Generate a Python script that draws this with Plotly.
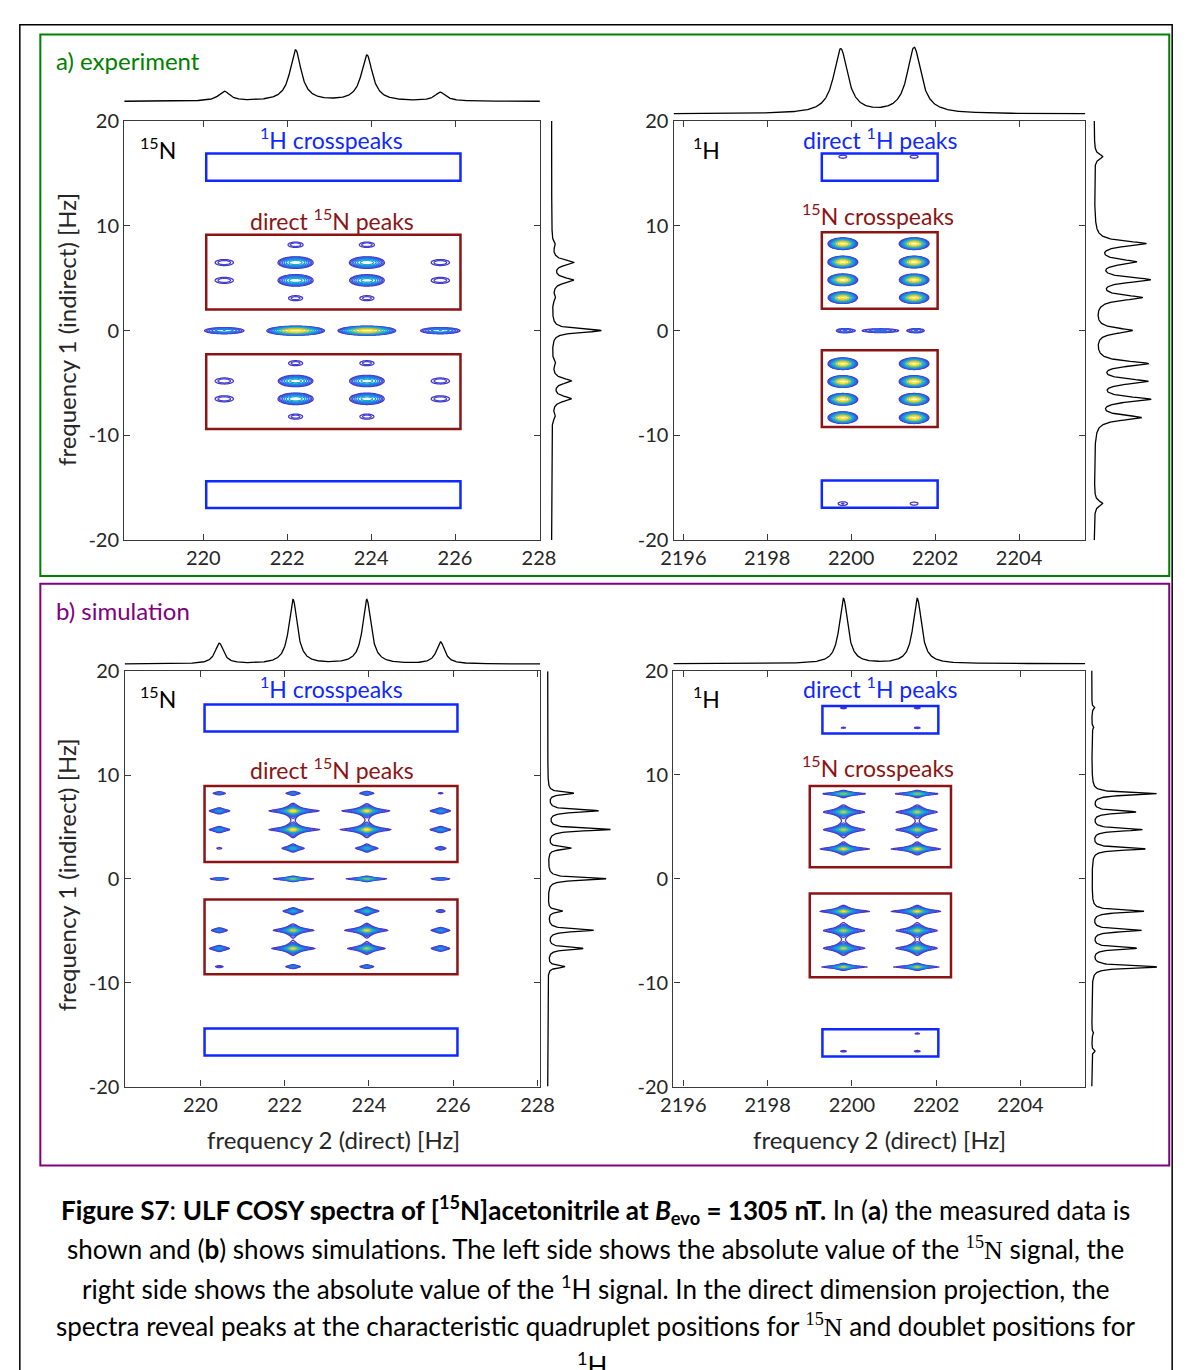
import numpy as np
import plotly.graph_objects as go

W, H = 1195, 1370
FONT = "Lato"

# ---------------------------------------------------------------------------
# (a) experiment, 15N channel: 2D peak table (rows = f1, cols = f2)
expN_cols = [220.5, 222.2, 223.9, 225.65]
expN_rows = [8.2, 6.5, 4.8, 3.1, 0.0, -3.1, -4.8, -6.5, -8.2]
expN_amp = [
    [0.00, 0.070, 0.070, 0.00],
    [0.07, 0.320, 0.320, 0.07],
    [0.07, 0.320, 0.300, 0.07],
    [0.00, 0.065, 0.065, 0.00],
    [0.18, 1.000, 1.000, 0.18],
    [0.00, 0.065, 0.065, 0.00],
    [0.07, 0.300, 0.300, 0.07],
    [0.07, 0.320, 0.300, 0.07],
    [0.00, 0.065, 0.065, 0.00],
]
expN_row_w2 = [0.17, 0.205, 0.205, 0.17, 0.27, 0.17, 0.205, 0.205, 0.17]
expN_row_w1 = [0.24, 0.27, 0.27, 0.24, 0.17, 0.24, 0.27, 0.27, 0.24]
expN_top_f2 = [220.5, 222.2, 223.9, 225.65]
expN_top_amp = [0.19, 1.0, 0.9, 0.17]
expN_top_w = [0.16, 0.16, 0.16, 0.16]
expN_side_f1 = [8.2, 6.5, 4.8, 3.1, 0.0, -3.1, -4.8, -6.5, -8.2]
expN_side_amp = [0.06, 0.43, 0.43, 0.06, 1.0, 0.06, 0.38, 0.38, 0.06]
expN_side_w = [0.3, 0.3, 0.3, 0.3, 0.2, 0.3, 0.3, 0.3, 0.3]

# (a) experiment, 1H channel
expH_cols = [2199.8, 2201.5]
expH_rows = [16.6, 8.3, 6.55, 4.85, 3.15, -3.15, -4.85, -6.55, -8.3, -16.5]
expH_amp = [
    [0.05, 0.05],
    [0.95, 1.00],
    [1.00, 1.00],
    [1.00, 0.95],
    [0.90, 0.92],
    [0.95, 0.95],
    [1.00, 1.00],
    [1.00, 1.00],
    [0.95, 0.95],
    [0.055, 0.05],
]
expH_row_w2 = [0.14] * 10
expH_row_w1 = [0.22] * 10
expH_diag_f2 = [2199.85, 2200.7, 2201.55]
expH_diag_amp = [0.10, 0.11, 0.10]
expH_diag_w2 = [0.15, 0.30, 0.14]
expH_diag_w1 = [0.15, 0.13, 0.15]
expH_top_f2 = [2199.75, 2201.5]
expH_top_amp = [0.98, 1.0]
expH_top_w = [0.2, 0.2]
expH_side_f1 = [16.6, 8.3, 6.55, 4.85, 3.15, 0.0, -3.15, -4.85, -6.55, -8.3, -16.5]
expH_side_amp = [0.15, 0.9, 0.7, 0.95, 0.82, 0.66, 0.92, 0.9, 0.95, 0.8, 0.15]
expH_side_w = [0.3] * 11

# (b) simulation, 15N channel
simN_cols = [220.45, 222.2, 223.95, 225.7]
simN_rows = [8.25, 6.55, 4.75, 2.95, 0.0, -3.1, -4.95, -6.7, -8.45]
simN_amp = [
    [0.12, 0.14, 0.14, 0.05],
    [0.20, 1.00, 0.90, 0.20],
    [0.20, 1.00, 1.00, 0.20],
    [0.05, 0.30, 0.30, 0.10],
    [0.15, 0.55, 0.55, 0.15],
    [0.00, 0.25, 0.35, 0.08],
    [0.14, 0.70, 0.80, 0.18],
    [0.20, 0.80, 0.60, 0.18],
    [0.07, 0.15, 0.14, 0.00],
]
simN_row_w2 = [0.10, 0.11, 0.11, 0.10, 0.13, 0.10, 0.11, 0.11, 0.10]
simN_row_w1 = [0.10, 0.14, 0.14, 0.13, 0.07, 0.13, 0.14, 0.14, 0.10]
simN_top_f2 = [220.45, 222.2, 223.95, 225.7]
simN_top_amp = [0.32, 1.0, 1.0, 0.34]
simN_top_w = [0.12] * 4
simN_side_f1 = [8.25, 6.55, 4.75, 2.95, 0.0, -3.1, -4.95, -6.7, -8.45]
simN_side_amp = [0.41, 0.81, 1.0, 0.37, 0.94, 0.23, 0.73, 0.56, 0.27]
simN_side_w = [0.15] * 9

# (b) simulation, 1H channel
simH_cols = [2199.8, 2201.55]
simH_rows = [16.4, 14.5, 8.15, 6.4, 4.7, 2.85, -3.15, -5.0, -6.7, -8.5, -14.9, -16.6]
simH_amp = [
    [0.05, 0.05],
    [0.045, 0.05],
    [0.60, 0.60],
    [0.60, 0.60],
    [0.60, 0.60],
    [0.80, 0.80],
    [0.80, 0.80],
    [0.60, 0.60],
    [0.60, 0.60],
    [0.60, 0.60],
    [0.00, 0.045],
    [0.05, 0.05],
]
simH_row_w2 = [0.12, 0.12, 0.13, 0.12, 0.12, 0.12, 0.12, 0.12, 0.12, 0.13, 0.12, 0.12]
simH_row_w1 = [0.12, 0.12, 0.08, 0.16, 0.16, 0.12, 0.12, 0.16, 0.16, 0.08, 0.12, 0.12]
simH_top_f2 = [2199.8, 2201.55]
simH_top_amp = [1.0, 1.0]
simH_top_w = [0.12, 0.12]
simH_side_f1 = [16.4, 14.5, 8.15, 6.4, 4.7, 2.85, -3.15, -5.0, -6.7, -8.5, -14.9, -16.6]
simH_side_amp = [0.05, 0.03, 1.0, 0.67, 0.77, 0.82, 0.80, 0.76, 0.68, 1.0, 0.03, 0.05]
simH_side_w = [0.15] * 12

# boxes marking peak groups: (f2 lo, f2 hi, f1 lo, f1 hi)
expN_blue = [(220.07, 226.13, 14.3, 16.9), (220.07, 226.13, -16.93, -14.37)]
expN_red = [(220.07, 226.13, 2.03, 9.16), (220.07, 226.13, -9.37, -2.25)]
expH_blue = [(2199.3, 2202.06, 14.3, 16.9), (2199.3, 2202.06, -16.9, -14.3)]
expH_red = [(2199.3, 2202.06, 2.1, 9.4), (2199.3, 2202.06, -9.18, -1.87)]
simN_blue = [(220.1, 226.1, 14.2, 16.8), (220.1, 226.1, -17.0, -14.4)]
simN_red = [(220.1, 226.1, 1.63, 8.96), (220.1, 226.1, -9.18, -1.98)]
simH_blue = [(2199.3, 2202.05, 13.96, 16.6), (2199.3, 2202.05, -17.1, -14.5)]
simH_red = [(2199.0, 2202.35, 1.1, 8.9), (2199.0, 2202.35, -9.5, -1.44)]

xticks_N = [220, 222, 224, 226, 228]
xticks_H = [2196, 2198, 2200, 2202, 2204]
yticks = [-20, -10, 0, 10, 20]

BLUE = "rgb(15,40,255)"
DARKRED = "rgb(140,20,20)"
GREEN = "rgb(0,128,0)"
PURPLE = "rgb(128,0,128)"
AXC = "#3a3a3a"
TXT = "#262626"

PARULA = [
    [0.00, "#4a35c4"], [0.15, "#3c4fe0"], [0.35, "#1f78e8"], [0.55, "#12a3d8"],
    [0.70, "#2cb9a8"], [0.82, "#86c06c"], [0.92, "#e2bf48"], [1.00, "#f8e21e"],
]


def gauss(u, s):
    return np.exp(-0.5 * (u / s) ** 2)


def lorentz(u, g):
    return 1.0 / (1.0 + (u / g) ** 2)


def peak_list_from_table(cols, rows, amp, w2, w1):
    out = []
    for i, r in enumerate(rows):
        for j, c in enumerate(cols):
            a = amp[i][j]
            if a > 0:
                out.append((c, r, a, w2[i], w1[i]))
    return out


def spectrum2d(peaks, shape, xg, yg):
    f = gauss if shape == "g" else lorentz
    z = np.zeros((len(yg), len(xg)))
    for (c, r, a, w2, w1) in peaks:
        z += a * np.outer(f(yg - r, w1), f(xg - c, w2))
    return z


def spectrum1d(pos, amp, wid, grid):
    s = np.zeros_like(grid)
    for p, a, w in zip(pos, amp, wid):
        s += a * lorentz(grid - p, w)
    return s


def px_x(p):
    return p / W


def px_y(p):
    return 1 - p / H


expH_peaks = peak_list_from_table(expH_cols, expH_rows, expH_amp, expH_row_w2, expH_row_w1)
expH_peaks += [(c, 0.0, a, w2, w1) for c, a, w2, w1 in
               zip(expH_diag_f2, expH_diag_amp, expH_diag_w2, expH_diag_w1)]

panels = [
    dict(peaks=peak_list_from_table(expN_cols, expN_rows, expN_amp, expN_row_w2, expN_row_w1),
         shape="g", lev0=-1.4, box=(114, 540, 110, 536.7), xr=(218.116, 228.023), xt=xticks_N,
         top=(expN_top_f2, expN_top_amp, expN_top_w), top_px=(25, 108, 90, 52),
         side=(expN_side_f1, expN_side_amp, expN_side_w), side_px=(545, 620, 552, 51),
         blue=expN_blue, red=expN_red),
    dict(peaks=expH_peaks,
         shape="g", lev0=-1.4, box=(677, 1099, 110, 536.7), xr=(2195.767, 2205.58), xt=xticks_H,
         top=(expH_top_f2, expH_top_amp, expH_top_w), top_px=(25, 108, 102.7, 67),
         side=(expH_side_f1, expH_side_amp, expH_side_w), side_px=(1101, 1180, 1108, 57.5),
         blue=expH_blue, red=expH_red),
    dict(peaks=peak_list_from_table(simN_cols, simN_rows, simN_amp, simN_row_w2, simN_row_w1),
         shape="l", lev0=-1.4, box=(114.4, 540.4, 670, 1092.7), xr=(218.204, 228.065), xt=xticks_N,
         top=(simN_top_f2, simN_top_amp, simN_top_w), top_px=(585, 668, 662.7, 65.4),
         side=(simN_side_f1, simN_side_amp, simN_side_w), side_px=(542, 622, 548, 64),
         blue=simN_blue, red=simN_red),
    dict(peaks=peak_list_from_table(simH_cols, simH_rows, simH_amp, simH_row_w2, simH_row_w1),
         shape="l", lev0=-1.42, box=(676.8, 1098.9, 669.3, 1092.7), xr=(2195.764, 2205.535),
         xt=xticks_H,
         top=(simH_top_f2, simH_top_amp, simH_top_w), top_px=(585, 668, 662.3, 66.3),
         side=(simH_side_f1, simH_side_amp, simH_side_w), side_px=(1100, 1182, 1105.6, 66.4),
         blue=simH_blue, red=simH_red),
]

fig = go.Figure()
layout = dict(
    width=W, height=H, margin=dict(l=0, r=0, t=0, b=0),
    paper_bgcolor="white", plot_bgcolor="white", showlegend=False,
    font=dict(family=FONT, color=TXT),
)
shapes = []
annotations = []


def axname(n, kind):
    return f"{kind}axis" if n == 1 else f"{kind}axis{n}"


def axref(n, kind):
    return kind if n == 1 else f"{kind}{n}"


def ticklabels(vals):
    return [str(v) for v in vals]  # plain hyphen for negatives


for k, p in enumerate(panels):
    nm, nt, ns = 3 * k + 1, 3 * k + 2, 3 * k + 3
    x0, x1, y0, y1 = p["box"]
    xdom = [px_x(x0), px_x(x1)]
    ydom = [px_y(y1), px_y(y0)]

    # main 2D contour map (log-spaced contour levels)
    cols = [c for c, *_ in p["peaks"]]
    xg = np.arange(min(cols) - 1.3, max(cols) + 1.3, 0.025)
    yg = np.arange(-19.0, 19.0, 0.06)
    z = spectrum2d(p["peaks"], p["shape"], xg, yg)
    zl = np.round(np.log10(np.maximum(z, 1e-3)), 3)
    fig.add_trace(go.Contour(
        x=xg, y=yg, z=zl, xaxis=axref(nm, "x"), yaxis=axref(nm, "y"),
        contours=dict(start=p["lev0"], end=0.0, size=0.13, coloring="lines"),
        colorscale=PARULA, zmin=-1.45, zmax=0.0, showscale=False,
        line=dict(width=1.3), hoverinfo="skip",
    ))
    ax_common = dict(showline=True, mirror="ticks", linecolor=AXC, linewidth=1.4,
                     ticks="inside", ticklen=6, tickwidth=1, tickcolor=AXC,
                     showgrid=False, zeroline=False,
                     tickfont=dict(family=FONT, size=20, color=TXT))
    layout[axname(nm, "x")] = dict(domain=xdom, range=list(p["xr"]), anchor=axref(nm, "y"),
                                   tickvals=p["xt"], ticktext=ticklabels(p["xt"]), **ax_common)
    layout[axname(nm, "y")] = dict(domain=ydom, range=[-20, 20], anchor=axref(nm, "x"),
                                   tickvals=yticks, ticktext=ticklabels(yticks), **ax_common)

    # projection along the direct dimension (top)
    tf2, tamp, tw = p["top"]
    d0, d1, base, unit = p["top_px"]
    xx = np.linspace(p["xr"][0], p["xr"][1], 900)
    fig.add_trace(go.Scatter(
        x=xx, y=spectrum1d(tf2, tamp, tw, xx), mode="lines",
        line=dict(color="black", width=1.3), xaxis=axref(nt, "x"), yaxis=axref(nt, "y"),
        hoverinfo="skip"))
    layout[axname(nt, "x")] = dict(domain=xdom, range=list(p["xr"]), anchor=axref(nt, "y"),
                                   visible=False)
    layout[axname(nt, "y")] = dict(domain=[px_y(d1), px_y(d0)],
                                   range=[-(d1 - base) / unit, (base - d0) / unit],
                                   anchor=axref(nt, "x"), visible=False)

    # projection along the indirect dimension (side)
    sf1, samp, sw = p["side"]
    e0, e1, sbase, sunit = p["side_px"]
    yy = np.linspace(-20, 20, 1400)
    fig.add_trace(go.Scatter(
        x=spectrum1d(sf1, samp, sw, yy), y=yy, mode="lines",
        line=dict(color="black", width=1.3), xaxis=axref(ns, "x"), yaxis=axref(ns, "y"),
        hoverinfo="skip"))
    layout[axname(ns, "x")] = dict(domain=[px_x(e0), px_x(e1)],
                                   range=[-(sbase - e0) / sunit, (e1 - sbase) / sunit],
                                   anchor=axref(ns, "y"), visible=False)
    layout[axname(ns, "y")] = dict(domain=ydom, range=[-20, 20], anchor=axref(ns, "x"),
                                   visible=False)

    # boxes around peak groups
    for group, color in ((p["blue"], BLUE), (p["red"], DARKRED)):
        for (bx0, bx1, by0, by1) in group:
            shapes.append(dict(type="rect", xref=axref(nm, "x"), yref=axref(nm, "y"),
                               x0=bx0, x1=bx1, y0=by0, y1=by1,
                               line=dict(color=color, width=2.5)))

# frames around the two rows and the page
shapes.append(dict(type="rect", xref="paper", yref="paper",
                   x0=px_x(7), x1=px_x(1188), y0=px_y(1400), y1=px_y(12),
                   line=dict(color="black", width=1.5)))
shapes.append(dict(type="rect", xref="paper", yref="paper",
                   x0=px_x(28), x1=px_x(1185), y0=px_y(573), y1=px_y(22),
                   line=dict(color=GREEN, width=2)))
shapes.append(dict(type="rect", xref="paper", yref="paper",
                   x0=px_x(28), x1=px_x(1185), y0=px_y(1173), y1=px_y(581),
                   line=dict(color=PURPLE, width=2)))


def label(text, x, y, size=22, color=TXT, xanchor="center", angle=0):
    annotations.append(dict(text=text, x=px_x(x), y=px_y(y), xref="paper", yref="paper",
                            xanchor=xanchor, yanchor="middle", showarrow=False,
                            textangle=angle, font=dict(family=FONT, size=size, color=color)))


label("a) experiment", 42, 48, 24, GREEN, "left")
label("b) simulation", 42, 608, 24, PURPLE, "left")

for dy in (0, 559):
    label("<sup>1</sup>H crosspeaks", 326, 128 + dy, 23, BLUE)
    label("direct <sup>15</sup>N peaks", 327, 210 + dy, 23, DARKRED)
    label("<sup>15</sup>N", 149, 138 + dy, 23, "black")
    label("direct <sup>1</sup>H peaks", 889, 128 + dy, 23, BLUE)
    label("<sup>15</sup>N crosspeaks", 887, 205 + dy + (0 if dy == 0 else 3), 23, DARKRED)
    label("<sup>1</sup>H", 711, 138 + dy, 23, "black")

label("frequency 1 (indirect) [Hz]", 55, 322, 24, TXT, angle=-90)
label("frequency 1 (indirect) [Hz]", 55, 877, 24, TXT, angle=-90)
label("frequency 2 (direct) [Hz]", 328, 1147, 24, TXT)
label("frequency 2 (direct) [Hz]", 888, 1147, 24, TXT)

SERIF = '<span style="font-family:Liberation Serif">'
caption = [
    "<b>Figure S7</b>: <b>ULF COSY spectra of [<sup>15</sup>N]acetonitrile at <i>B</i>"
    "<sub>evo</sub> = 1305 nT.</b> In (<b>a</b>) the measured data is",
    "shown and (<b>b</b>) shows simulations. The left side shows the absolute value of the "
    + SERIF + "<sup>15</sup>N</span> signal, the",
    "right side shows the absolute value of the <sup>1</sup>H signal. In the direct dimension "
    "projection, the",
    "spectra reveal peaks at the characteristic quadruplet positions for "
    + SERIF + "<sup>15</sup>N</span> and doublet positions for",
    "<sup>1</sup>H.",
]
for i, line in enumerate(caption):
    label(line, 597, 1218 + 39.4 * i, 26, "black")

layout["shapes"] = shapes
layout["annotations"] = annotations
fig.update_layout(**layout)
fig.write_html("out.html")
